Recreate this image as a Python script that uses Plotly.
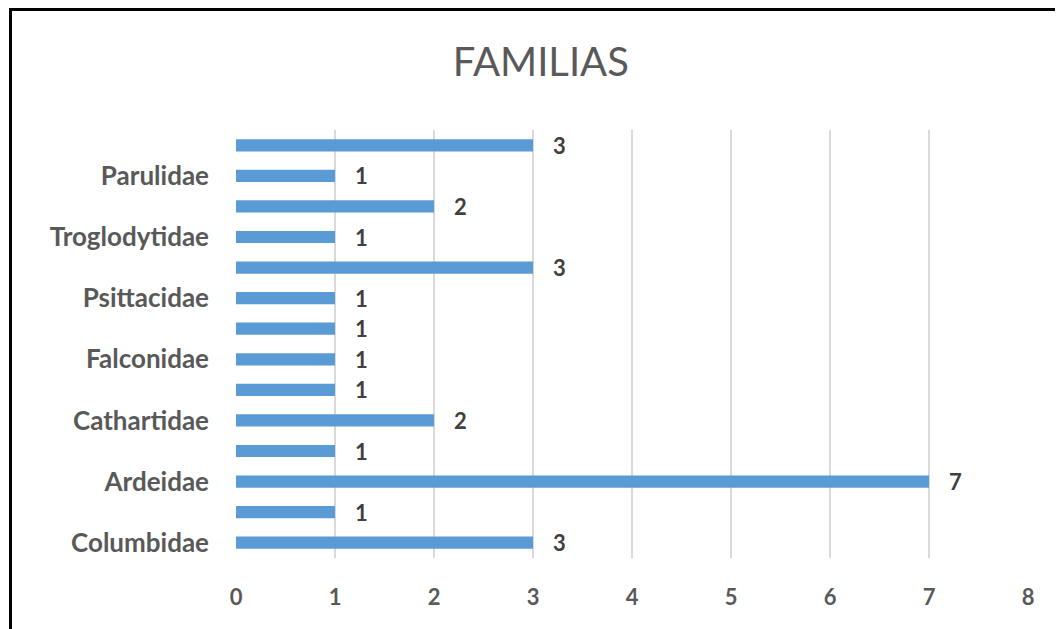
import plotly.graph_objects as go

# Categories bottom to top (unlabelled ones in the source chart are empty)
categories = ["Columbidae", "", "Ardeidae", "", "Cathartidae", "", "Falconidae",
              "", "Psittacidae", "", "Troglodytidae", "", "Parulidae", ""]
values = [3, 1, 7, 1, 2, 1, 1, 1, 1, 3, 1, 2, 1, 3]
x_ticks = [0, 1, 2, 3, 4, 5, 6, 7, 8]
title_text = "FAMILIAS"

positions = list(range(len(categories)))
tick_pos = [p for p, c in zip(positions, categories) if c]
tick_txt = [f"<b>{c}</b>" for c in categories if c]

font_family = "Lato, 'Open Sans', sans-serif"
grey = "#595959"

W, H = 1055, 621
L, R, T, B = 228, 35, 122, 71
pw, ph = W - L - R, H - T - B

fig = go.Figure(go.Bar(
    x=values, y=positions, orientation="h",
    marker=dict(color="#5B9BD5", line=dict(width=0)),
    text=values, texttemplate="   <b>%{x}</b>", textposition="outside",
    constraintext="none",
    textfont=dict(family=font_family, size=22, color="#404040"),
    cliponaxis=False,
))

fig.update_layout(
    width=W, height=H,
    margin=dict(l=L, r=R, t=T, b=B),
    paper_bgcolor="white", plot_bgcolor="white",
    bargap=0.6,
    showlegend=False,
    title=dict(text=title_text, x=0.505, xanchor="center", y=1 - 54 / H, yanchor="middle",
               font=dict(family=font_family, size=40, color=grey)),
    xaxis=dict(range=[0, 8], tickvals=x_ticks, ticktext=[f"<b>{v}</b>" for v in x_ticks],
               showgrid=True, gridcolor="#D9D9D9",
               gridwidth=2, zeroline=False, showline=False, ticks="",
               ticklabelstandoff=24,
               tickfont=dict(family=font_family, size=22, color=grey)),
    yaxis=dict(range=[-0.5, len(categories) - 0.5], tickvals=tick_pos, ticktext=tick_txt,
               showgrid=False, zeroline=False, showline=False, ticks="",
               ticklabelstandoff=26,
               tickfont=dict(family=font_family, size=26, color=grey)),
    shapes=[dict(type="rect", xref="paper", yref="paper",
                 x0=(2.5 - L) / pw, x1=1.2, y0=-0.4, y1=(ph + T - 1.5) / ph,
                 line=dict(color="black", width=3), fillcolor="rgba(0,0,0,0)")],
)

fig.write_html("out.html")
